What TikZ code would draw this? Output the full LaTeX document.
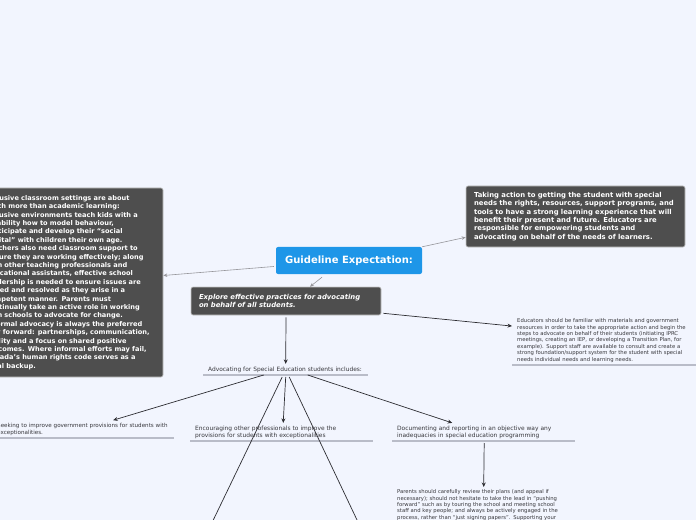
\documentclass[tikz,border=0pt]{standalone}
\usepackage{fontspec}
\setmainfont{DejaVu Sans}
\usetikzlibrary{arrows.meta,calc}
\definecolor{bgc}{RGB}{242,245,254}
\definecolor{darkboxc}{RGB}{78,78,78}
\definecolor{bluec}{RGB}{30,150,232}
\definecolor{txtc}{RGB}{55,55,60}
\definecolor{ulc}{RGB}{185,188,200}
\definecolor{glinec}{RGB}{150,150,155}
\definecolor{dlinec}{RGB}{45,45,50}
\begin{document}
\begin{tikzpicture}[x=1bp,y=-1bp,
  darkbox/.style={fill=darkboxc, draw=gray!45, line width=0.6bp, rounded corners=2bp, text=white,
    font=\fontsize{6.85bp}{8.4bp}\selectfont\bfseries, align=left, inner xsep=8bp, inner ysep=0bp},
  topic/.style={text=txtc, align=left, inner xsep=5bp, inner ysep=2.5bp,
    font=\fontsize{5.9bp}{7bp}\selectfont,
    append after command={\pgfextra{\draw[ulc, line width=1.2bp] (\tikzlastnode.south west) -- (\tikzlastnode.south east);}}},
  subtopic/.style={topic, font=\fontsize{5.3bp}{6.4bp}\selectfont},
  gline/.style={glinec, line width=0.6bp, -{Stealth[length=4bp,width=3.5bp]}},
  dline/.style={dlinec, line width=0.7bp, -{Stealth[length=4.5bp,width=4bp]}},
  pline/.style={dlinec, line width=0.7bp}
]
\useasboundingbox (0,0) rectangle (696,520);
\fill[bgc] (0,0) rectangle (696,520);
\clip (0,0) rectangle (696,520);

\node[fill=bluec, rounded corners=2bp, text=white, font=\fontsize{10bp}{12bp}\selectfont\bfseries,
  minimum width=146bp, minimum height=27bp, inner sep=0bp] (c) at (349,260.5) {Guideline Expectation:};

\node[darkbox, minimum width=219bp, minimum height=61bp, text width=203bp] (r) at (575.5,216.5)
{Taking action to getting the student with special\\
needs the rights, resources, support programs, and\\
tools to have a strong learning experience that will\\
benefit their present and future. Educators are\\
responsible for empowering students and\\
advocating on behalf of the needs of learners.};

\node[darkbox, font=\fontsize{6.6bp}{8.4bp}\selectfont\bfseries,
  minimum width=185bp, minimum height=189bp, text width=169bp] (l) at (70.5,282.5)
{Inclusive classroom settings are about\\
much more than academic learning:\\
inclusive environments teach kids with a\\
disability how to model behaviour,\\
participate and develop their “social\\
capital” with children their own age.\\
Teachers also need classroom support to\\
ensure they are working effectively; along\\
with other teaching professionals and\\
educational assistants, effective school\\
leadership is needed to ensure issues are\\
raised and resolved as they arise in a\\
competent manner. Parents must\\
continually take an active role in working\\
with schools to advocate for change.\\
Informal advocacy is always the preferred\\
way forward: partnerships, communication,\\
civility and a focus on shared positive\\
outcomes. Where informal efforts may fail,\\
Canada’s human rights code serves as a\\
legal backup.};

\node[darkbox, font=\fontsize{6.85bp}{8.4bp}\selectfont\bfseries\itshape,
  minimum width=190bp, minimum height=28bp, text width=174bp] (e) at (286,301)
{Explore effective practices for advocating\\
on behalf of all students.};

\node[subtopic, anchor=south west, text width=180bp] (ed) at (512,365)
{Educators should be familiar with materials and government\\
resources in order to take the appropriate action and begin the\\
steps to advocate on behalf of their students (initiating IPRC\\
meetings, creating an IEP, or developing a Transition Plan, for\\
example). Support staff are available to consult and create a\\
strong foundation/support system for the student with special\\
needs individual needs and learning needs.};

\node[topic, anchor=south west, text width=155bp] (a) at (203,375)
{Advocating for Special Education students includes:};

\node[topic, font=\fontsize{5.6bp}{7bp}\selectfont, anchor=south west, text width=172bp] (s) at (-8,438)
{Seeking to improve government provisions for students with\\
exceptionalities.};

\node[topic, anchor=south west, text width=173bp] (en) at (190,441)
{Encouraging other professionals to improve the\\
provisions for students with exceptionalities};

\node[topic, anchor=south west, text width=173bp] (d) at (392,441)
{Documenting and reporting in an objective way any\\
inadequacies in special education programming};

\node[subtopic, anchor=north west, text width=173bp] (p) at (392,487)
{Parents should carefully review their plans (and appeal if\\
necessary); should not hesitate to take the lead in “pushing\\
forward” such as by touring the school and meeting school\\
staff and key people; and always be actively engaged in the\\
process, rather than “just signing papers”. Supporting your};

\coordinate (o1) at (194,560);
\coordinate (o2) at (376,560);

\draw[gline] (c.north east) -- ($(r.south west)+(0,-10)$);
\draw[gline] ($(c.west)+(-2,6)$) -- ($(l.east)+(0,-7)$);
\draw[gline] ($(c.south)+(-27,3)$) -- ($(e.north)+(24,0)$);
\draw[dline] ($(e.south east)+(2,-2)$) -- ($(ed.north west)+(0,10)$);
\draw[dline] ($(e.south)+(0,2)$) -- (a.north);
\draw[dline] ($(a.south)+(-22,0)$) -- ($(s.north)+(30,0)$);
\draw[dline] ($(a.south)+(0,2)$) -- ($(en.north)+(1.5,0)$);
\draw[dline] ($(a.south)+(22,0)$) -- ($(d.north)+(-31.5,0)$);
\draw[pline] ($(a.south)+(-3.5,2)$) -- (o1);
\draw[pline] ($(a.south)+(3.5,2)$) -- (o2);
\draw[dline] ($(d.south)+(0.5,2)$) -- (p.north);
\end{tikzpicture}
\end{document}
